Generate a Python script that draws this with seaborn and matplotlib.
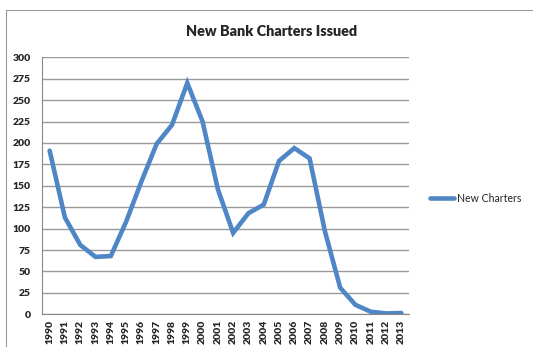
import matplotlib
matplotlib.use("Agg")
import matplotlib.pyplot as plt
import seaborn as sns
import pandas as pd
import numpy as np
from matplotlib.lines import Line2D

years = [str(y) for y in range(1990, 2014)]
new_charters = [191, 113, 81, 67, 68, 108, 155, 199, 221, 270, 225, 146,
                95, 118, 128, 179, 194, 182, 97, 31, 11, 3, 1, 1.5]
y_ticks = [0, 25, 50, 75, 100, 125, 150, 175, 200, 225, 250, 275, 300]
title = "New Bank Charters Issued"
series_name = "New Charters"

df = pd.DataFrame({"year": years, "value": new_charters})
df["pos"] = np.arange(len(years))

sns.set_style("white")
plt.rcParams["font.family"] = ["Lato", "DejaVu Sans"]

fig = plt.figure(figsize=(5.33, 3.47), dpi=100)
ax = fig.add_axes([42/533, 32.7/347, (409-42)/533, (314.3-57.3)/347])

color = "#4F86C6"
sns.lineplot(data=df, x="pos", y="value", ax=ax, color=color, linewidth=3.3,
             solid_joinstyle="miter", legend=False)

ax.set_xlim(-0.5, len(years) - 0.5)
ax.set_ylim(0, 300)
ax.set_yticks(y_ticks)
ax.set_yticklabels([str(t) for t in y_ticks], fontsize=7.5, fontweight="heavy")
ax.set_xticks(df["pos"])
ax.set_xticklabels(years, rotation=90, fontsize=7.5, fontweight="heavy")
ax.set_xticks(np.arange(-0.5, len(years)), minor=True)
ax.tick_params(axis="x", which="major", length=0, pad=4)
ax.tick_params(axis="x", which="minor", length=4, color="#888888", width=0.8)
ax.tick_params(axis="y", which="major", length=4, color="#888888", width=0.8, pad=4)
ax.set_xlabel("")
ax.set_ylabel("")

ax.grid(axis="y", color="#999999", linewidth=1.0)
ax.grid(axis="x", visible=False)
ax.set_axisbelow(True)
for side in ["top", "right"]:
    ax.spines[side].set_visible(False)
ax.spines["left"].set_color("#888888")
ax.spines["bottom"].set_color("#888888")
ax.spines["left"].set_linewidth(0.8)
ax.spines["bottom"].set_linewidth(0.8)

fig.text(272/533, 1 - 31/347, title, ha="center", va="center",
         fontsize=10.4, fontweight="heavy")

handle = Line2D([0], [0], color=color, linewidth=3.3)
fig.legend([handle], [series_name], loc="center left",
           bbox_to_anchor=(420/533, 1 - 198/347), frameon=False,
           fontsize=7.6, handlelength=2.3, handletextpad=0.3)

# outer chart border (top and left visible)
fig.add_artist(Line2D([6/533, 1], [1 - 10/347, 1 - 10/347], color="#999999", linewidth=0.8, transform=fig.transFigure))
fig.add_artist(Line2D([6/533, 6/533], [0, 1 - 10/347], color="#999999", linewidth=0.8, transform=fig.transFigure))

fig.savefig("out.png", dpi=100)
